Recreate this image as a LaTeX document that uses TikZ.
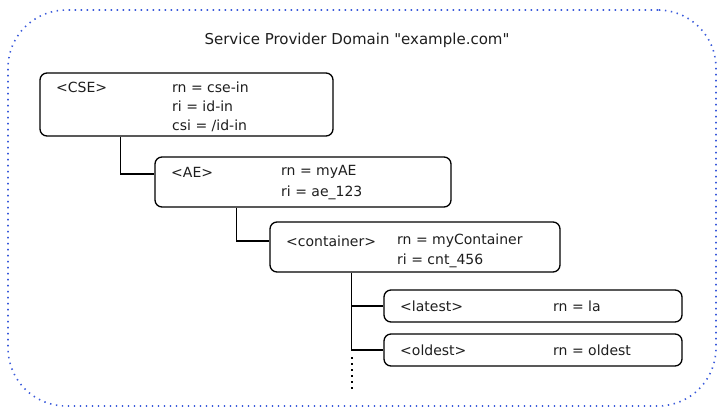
\documentclass[tikz,border=0pt]{standalone}
\usepackage{fontspec}
\setmainfont{DejaVu Sans}
\newfontfamily\plainfont{DejaVu Sans}
\usetikzlibrary{positioning}
\definecolor{ink}{HTML}{1E1E1E}
\definecolor{domblue}{HTML}{3B5BDB}
\tikzset{
  box/.style={draw=black, line width=1.3pt, rounded corners=7pt, inner sep=0pt},
  outerbox/.style={draw=domblue, line width=1.6pt, rounded corners=58pt, dash pattern=on 1.4pt off 4.6pt, inner sep=0pt},
  lbl/.style={anchor=west, inner sep=0pt, text=ink, font=\plainfont\fontsize{14}{16}\selectfont},
  link/.style={draw=black, line width=1.2pt},
}
\begin{document}
\begin{tikzpicture}[x=1pt,y=-1pt]
\useasboundingbox (0,0) rectangle (725,416);
\node[outerbox, minimum width=708pt, minimum height=396pt] (domain) at (362,208) {};
\node[text=ink, inner sep=0pt, font=\plainfont\fontsize{15}{17}\selectfont] (title) at (357,40) {Service Provider Domain "example.com"};

% boxes
\node[box, minimum width=293pt, minimum height=63pt] (cse) at (186.5,104.5) {};
\node[box, minimum width=296pt, minimum height=50pt] (ae) at (303,182) {};
\node[box, minimum width=290pt, minimum height=50pt] (cnt) at (415,247) {};
\node[box, minimum width=298pt, minimum height=32pt] (latest) at (533,306) {};
\node[box, minimum width=298pt, minimum height=32pt] (oldest) at (533,350) {};

% texts
\node[lbl] (t1) at (56,87) {<CSE>};
\node[lbl] (t2) at (172,87) {rn = cse-in};
\node[lbl] (t3) at (172,106) {ri = id-in};
\node[lbl] (t4) at (172,126) {csi = /id-in};

\node[lbl] (t5) at (171,172) {<AE>};
\node[lbl] (t6) at (281,172) {rn = myAE};
\node[lbl] (t7) at (281,193) {ri = ae\_123};

\node[lbl] (t8) at (286,241) {<container>};
\node[lbl] (t9) at (397,241) {rn = myContainer};
\node[lbl] (t10) at (397,261) {ri = cnt\_456};

\node[lbl] (t11) at (400,306) {<latest>};
\node[lbl] (t12) at (553,306) {rn = la};

\node[lbl] (t13) at (400,350) {<oldest>};
\node[lbl] (t14) at (553,350) {rn = oldest};

% connectors
\draw[link] ([xshift=81pt]cse.south west) |- ([yshift=8pt]ae.west);
\draw[link] ([xshift=82pt]ae.south west) |- ([yshift=6pt]cnt.west);
\coordinate (trunk) at ([xshift=82pt]cnt.south west);
\draw[link] (trunk) |- (oldest.west);
\draw[link] (trunk |- latest.west) -- (latest.west);
\coordinate (dotstart) at (352,357);
\coordinate (dotend) at (352,389);
\draw[draw=black, line width=1.2pt, dash pattern=on 2pt off 4pt] (dotstart) -- (dotend);
\end{tikzpicture}
\end{document}
